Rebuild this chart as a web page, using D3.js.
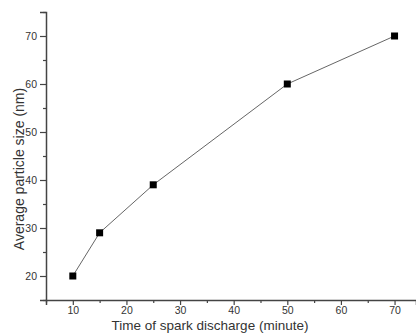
<!DOCTYPE html>
<html>
<head>
<meta charset="utf-8">
<script src="https://cdn.jsdelivr.net/npm/d3@7"></script>
<style>
  body { margin: 0; background: #fff; }
  svg { display: block; font-family: "Liberation Sans", Arial, sans-serif; }
</style>
</head>
<body>
<main></main>
<script>
// dados
const times = [10, 15, 25, 50, 70];
const sizes = [20, 29, 39, 60, 70];
const xTicks = [10, 20, 30, 40, 50, 60, 70];
const yTicks = [20, 30, 40, 50, 60, 70];
const xMinorTicks = [5, 15, 25, 35, 45, 55, 65];
const yMinorTicks = [15, 25, 35, 45, 55, 65, 75];

const width = 416;
const height = 334;
const margin = { top: 12, right: 0, bottom: 34, left: 46 };

const svg = d3.select('main').append('svg')
    .attr('width', width)
    .attr('height', height);

const x = d3.scaleLinear()
    .domain([5, 74])
    .range([margin.left, width - margin.right]);

const y = d3.scaleLinear()
    .domain([15, 75])
    .range([height - margin.bottom, margin.top]);

const axisColor = '#444';
const textColor = '#333';

// eixo x
svg.append('g')
    .attr('transform', `translate(0,${height - margin.bottom})`)
    .call(d3.axisBottom(x).tickValues(xTicks).tickSize(5).tickPadding(2).tickFormat(d3.format('d')));

svg.append('g')
    .attr('transform', `translate(0,${height - margin.bottom})`)
    .call(d3.axisBottom(x).tickValues(xMinorTicks).tickSize(3).tickFormat(''))
    .call(g => g.select('.domain').remove());

// eixo y
svg.append('g')
    .attr('transform', `translate(${margin.left},0)`)
    .call(d3.axisLeft(y).tickValues(yTicks).tickSize(6).tickPadding(3).tickFormat(d3.format('d')));

svg.append('g')
    .attr('transform', `translate(${margin.left},0)`)
    .call(d3.axisLeft(y).tickValues(yMinorTicks).tickSize(3).tickFormat(''))
    .call(g => g.select('.domain').remove());

svg.selectAll('.domain')
    .attr('stroke', axisColor)
    .attr('stroke-width', 1.5);
svg.selectAll('.tick line')
    .attr('stroke', axisColor)
    .attr('stroke-width', 1.2);
svg.selectAll('.tick text')
    .attr('fill', textColor)
    .attr('font-size', 10.5);

// linha
const points = times.map((t, i) => ({ t, s: sizes[i] }));

svg.append('path')
    .datum(points)
    .attr('fill', 'none')
    .attr('stroke', '#666')
    .attr('stroke-width', 1)
    .attr('d', d3.line().x(d => x(d.t)).y(d => y(d.s)));

const m = 7;
svg.append('g')
    .selectAll('rect')
    .data(points)
    .enter().append('rect')
    .attr('x', d => x(d.t) - m / 2)
    .attr('y', d => y(d.s) - m / 2)
    .attr('width', m)
    .attr('height', m)
    .attr('fill', '#000');

// títulos dos eixos
svg.append('text')
    .attr('x', 210)
    .attr('y', 330)
    .attr('text-anchor', 'middle')
    .attr('font-size', 13.5)
    .attr('fill', textColor)
    .text('Time of spark discharge (minute)');

svg.append('text')
    .attr('transform', `translate(24,169) rotate(-90)`)
    .attr('text-anchor', 'middle')
    .attr('font-size', 14)
    .attr('fill', textColor)
    .text('Average particle size (nm)');
</script>
</body>
</html>
